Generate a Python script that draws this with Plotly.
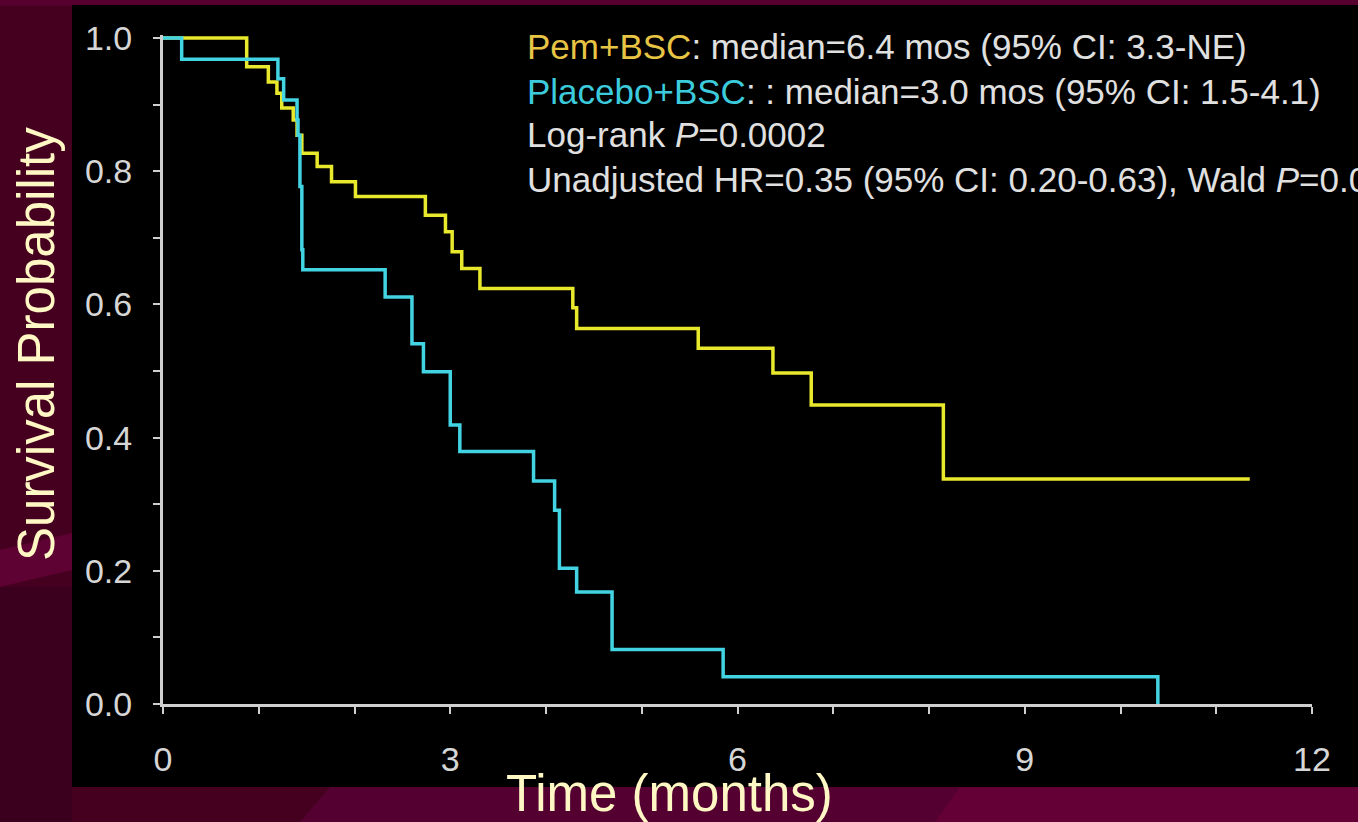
import plotly.graph_objects as go

# Kaplan-Meier step curves (time in months, survival probability)
pem_time = [0.0, 0.874, 1.10, 1.19, 1.24, 1.36, 1.40, 1.45, 1.61, 1.76, 2.01, 2.74, 2.95,
            3.02, 3.12, 3.31, 4.28, 4.32, 5.59, 6.37, 6.77, 8.15, 11.35]
pem_surv = [1.0, 0.957, 0.934, 0.917, 0.895, 0.877, 0.854, 0.827, 0.807, 0.784, 0.762, 0.734, 0.709,
            0.679, 0.654, 0.624, 0.595, 0.564, 0.534, 0.497, 0.449, 0.338, 0.338]

pbo_time = [0.0, 0.195, 1.20, 1.26, 1.40, 1.41, 1.43, 1.45, 1.46, 2.32, 2.60, 2.72, 3.00,
            3.10, 3.87, 4.09, 4.14, 4.32, 4.69, 5.85, 10.39]
pbo_surv = [1.0, 0.968, 0.939, 0.907, 0.877, 0.854, 0.777, 0.682, 0.652, 0.611, 0.541, 0.499, 0.419,
            0.379, 0.335, 0.291, 0.204, 0.168, 0.082, 0.041, 0.0]

x_ticks = [0, 3, 6, 9, 12]
y_ticks = [0.0, 0.2, 0.4, 0.6, 0.8, 1.0]

stat_lines = [
    "<span style='color:#e8c445'>Pem+BSC</span>: median=6.4 mos (95% CI: 3.3-NE)",
    "<span style='color:#3ccbdc'>Placebo+BSC</span>: : median=3.0 mos (95% CI: 1.5-4.1)",
    "Log-rank <i>P</i>=0.0002",
    "Unadjusted HR=0.35 (95% CI: 0.20-0.63), Wald <i>P</i>=0.0003",
]

W, H = 1358, 822
FONT = "Arial, Liberation Sans, sans-serif"

def px_x(p):
    return p / W

def px_y(p):
    return (H - p) / H

fig = go.Figure()
fig.add_trace(go.Scatter(x=pem_time, y=pem_surv, mode="lines", line_shape="hv",
                         line=dict(color="#e8e82c", width=3.5), showlegend=False))
fig.add_trace(go.Scatter(x=pbo_time, y=pbo_surv, mode="lines", line_shape="hv",
                         line=dict(color="#42d4e2", width=3.5), showlegend=False))

shapes = [
    # left band highlights of the slide background
    dict(type="path", path=f"M 0 {px_y(550)} L {px_x(72)} {px_y(533)} L {px_x(72)} {px_y(570)} L 0 {px_y(587)} Z",
         xref="paper", yref="paper", fillcolor="#5e0233", line_width=0, layer="below"),
    dict(type="rect", x0=0, x1=px_x(72), y0=px_y(587), y1=0, xref="paper", yref="paper",
         fillcolor="#3a001d", line_width=0, layer="below"),
    # bottom strip panels
    dict(type="path", path=f"M {px_x(300)} 0 L {px_x(330)} {px_y(787)} L 1 {px_y(787)} L 1 0 Z",
         xref="paper", yref="paper", fillcolor="#540030", line_width=0, layer="below"),
    dict(type="path", path=f"M {px_x(935)} 0 L {px_x(960)} {px_y(787)} L 1 {px_y(787)} L 1 0 Z",
         xref="paper", yref="paper", fillcolor="#640036", line_width=0, layer="below"),
    # top strip
    dict(type="rect", x0=0, x1=1, y0=px_y(6), y1=1, xref="paper", yref="paper",
         fillcolor="#560030", line_width=0, layer="below"),
    # black chart panel
    dict(type="rect", x0=px_x(72), x1=1.01, y0=px_y(787), y1=px_y(5), xref="paper", yref="paper",
         fillcolor="#000000", line_width=0, layer="below"),
]

annotations = []
for i, txt in enumerate(stat_lines):
    annotations.append(dict(text=txt, xref="paper", yref="paper", x=px_x(525), y=px_y(47 + i * 44),
                            xanchor="left", yanchor="middle", showarrow=False, align="left",
                            font=dict(family=FONT, size=35, color="#e0e0e0")))
annotations.append(dict(text="Survival Probability", xref="paper", yref="paper",
                        x=px_x(36), y=px_y(344), textangle=-90, xanchor="center", yanchor="middle",
                        showarrow=False, font=dict(family=FONT, size=51, color="#fff7c4")))
annotations.append(dict(text="Time (months)", xref="paper", yref="paper",
                        x=px_x(669), y=px_y(793), xanchor="center", yanchor="middle",
                        showarrow=False, font=dict(family=FONT, size=51, color="#fff7c4")))

axis_common = dict(showline=True, linecolor="#cfcfcf", linewidth=3, ticks="outside",
                   ticklen=7, tickwidth=2, tickcolor="#cfcfcf", showgrid=False, zeroline=False,
                   automargin=False,
                   tickfont=dict(family=FONT, size=34, color="#d6d6d6"))

fig.update_layout(
    width=W, height=H,
    autosize=False,
    margin=dict(l=0, r=0, t=0, b=0, pad=0),
    paper_bgcolor="#45001f",
    plot_bgcolor="rgba(0,0,0,0)",
    shapes=shapes,
    annotations=annotations,
    xaxis=dict(domain=[px_x(163), px_x(1312)], range=[0, 12], tickvals=x_ticks,
               ticklabelstandoff=16,
               minor=dict(dtick=1, ticks="outside", ticklen=7, tickwidth=2, tickcolor="#cfcfcf"),
               **axis_common),
    yaxis=dict(domain=[px_y(704), px_y(704 - 666 * 1.004)], range=[0, 1.004], tickvals=y_ticks,
               tickformat=".1f", ticklabelstandoff=14,
               minor=dict(dtick=0.1, ticks="outside", ticklen=7, tickwidth=2, tickcolor="#cfcfcf"),
               **axis_common),
)

fig.write_html("out.html")
